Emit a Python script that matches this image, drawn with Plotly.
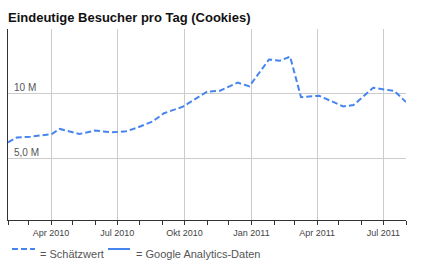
import plotly.graph_objects as go

dates = ["2010-02-01","2010-02-13","2010-03-04","2010-04-02","2010-04-13","2010-05-10",
         "2010-05-31","2010-06-24","2010-07-13","2010-07-26","2010-08-18","2010-09-03",
         "2010-09-29","2010-11-01","2010-11-19","2010-12-13","2010-12-29","2011-01-25",
         "2011-02-09","2011-02-23","2011-03-10","2011-04-04","2011-05-07","2011-05-21",
         "2011-06-17","2011-07-16","2011-08-01"]
visitors_m = [6.27,6.65,6.71,6.92,7.31,6.92,7.18,7.05,7.13,7.36,7.87,8.52,9.02,10.18,
              10.25,10.87,10.59,12.65,12.56,12.87,9.75,9.86,9.04,9.15,10.48,10.23,9.38]
visitors = [v * 1e6 for v in visitors_m]

x_tickvals = ["2010-04-01","2010-07-01","2010-10-01","2011-01-01","2011-04-01","2011-07-01"]
x_ticktext = ["Apr 2010","Jul 2010","Okt 2010","Jan 2011","Apr 2011","Jul 2011"]
y_gridvals = [5e6, 10e6, 15e6]
y_labelvals = [5e6, 10e6]
y_labeltext = ["5,0 M", "10 M"]
legend_labels = ["= Schätzwert", "= Google Analytics-Daten"]

blue = "#4684EE"
font = "Liberation Sans, Arial, sans-serif"
W, H = 423, 265
L, R, T, B = 8, 17, 29, 45
pw, ph = W - L - R, H - T - B

def px(x):
    return (x - L) / pw

def py(y):
    return (H - B - y) / ph

fig = go.Figure()
fig.add_trace(go.Scatter(x=dates, y=visitors, mode="lines", name=legend_labels[0],
                         line=dict(color=blue, width=2, dash="6px,3px"), showlegend=False))

# y labels inside the plot, above the gridlines
for v, t in zip(y_labelvals, y_labeltext):
    fig.add_annotation(x=0, xref="paper", y=v, yref="y", text=t, showarrow=False,
                       xanchor="left", yanchor="bottom", xshift=4, yshift=-1,
                       font=dict(size=10, color="#555", family=font))

# legend (drawn manually to match compact samples)
fig.add_shape(type="line", xref="paper", yref="paper", x0=px(12), x1=px(35), y0=py(249), y1=py(249),
              line=dict(color=blue, width=2, dash="6px,3px"))
fig.add_annotation(x=px(38), xref="paper", y=py(253.5), yref="paper", text=legend_labels[0],
                   showarrow=False, xanchor="left", yanchor="middle",
                   font=dict(size=11, color="#555", family=font))
fig.add_shape(type="line", xref="paper", yref="paper", x0=px(108), x1=px(130), y0=py(249), y1=py(249),
              line=dict(color=blue, width=2))
fig.add_annotation(x=px(134), xref="paper", y=py(253.5), yref="paper", text=legend_labels[1],
                   showarrow=False, xanchor="left", yanchor="middle",
                   font=dict(size=11, color="#555", family=font))

fig.update_layout(
    width=W, height=H,
    margin=dict(l=L, r=R, t=T, b=B, autoexpand=False),
    paper_bgcolor="white", plot_bgcolor="white",
    font=dict(family=font, color="#555"),
    title=dict(text="<b>Eindeutige Besucher pro Tag (Cookies)</b>", x=8/W, xanchor="left",
               y=1 - 17/H, yanchor="middle", font=dict(size=13, color="#111", family=font)),
    showlegend=False,
    xaxis=dict(range=["2010-02-01", "2011-08-01"], tickvals=x_tickvals, ticktext=x_ticktext,
               showgrid=True, gridcolor="#cccccc", gridwidth=1,
               ticks="outside", ticklen=4, tickcolor="#333", tickwidth=1,
               minor=dict(dtick="M1", tick0="2010-02-01", ticks="outside", ticklen=4,
                          tickcolor="#333", showgrid=False),
               showline=True, linecolor="#333", linewidth=1,
               tickfont=dict(size=9, color="#444"), zeroline=False, fixedrange=True),
    yaxis=dict(range=[0.3e6, 15e6], tickvals=y_gridvals, showticklabels=False,
               showgrid=True, gridcolor="#cccccc", gridwidth=1, ticks="",
               showline=True, linecolor="#333", linewidth=1, zeroline=False, fixedrange=True),
)

fig.write_html("out.html")
